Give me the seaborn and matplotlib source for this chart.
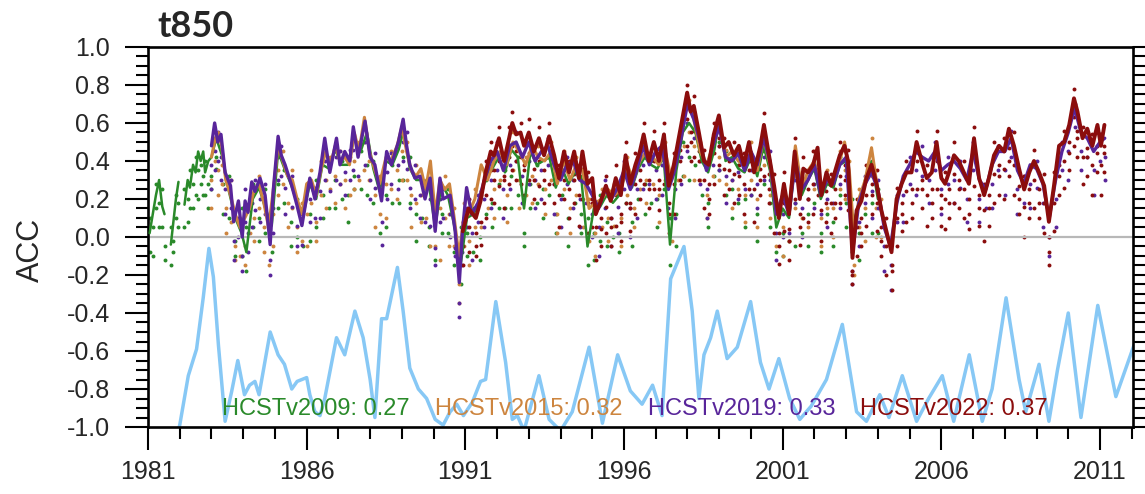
import numpy as np
import pandas as pd
import matplotlib
matplotlib.use("Agg")
import matplotlib.pyplot as plt
from matplotlib.ticker import MultipleLocator, FormatStrFormatter
import seaborn as sns

nan = np.nan

# ---------------- data ----------------
labels = ["HCSTv2009: 0.27", "HCSTv2015: 0.32", "HCSTv2019: 0.33", "HCSTv2022: 0.37"]
xticks = [1981, 1986, 1991, 1996, 2001, 2006, 2011]

# HCSTv2009 (green)
green_t = [1981.05, 1981.15, 1981.25, 1981.35, 1981.45, 1981.52, 1981.60, 1981.72, 1981.80, 1981.88,
           1981.96, 1982.05, 1982.15, 1982.25, 1982.32, 1982.42, 1982.50, 1982.58, 1982.66, 1982.74,
           1982.80, 1982.90, 1983.00, 1983.15, 1983.35, 1983.55, 1983.75, 1983.95, 1984.10, 1984.30,
           1984.50, 1984.70, 1984.90, 1985.10, 1985.30, 1985.50, 1985.70, 1985.90, 1986.10, 1986.30,
           1986.50, 1986.70, 1986.90, 1987.10, 1987.30, 1987.50, 1987.70, 1987.90, 1988.10, 1988.30,
           1988.50, 1988.70, 1988.90, 1989.05, 1989.25, 1989.45, 1989.65, 1989.85, 1990.05, 1990.25,
           1990.45, 1990.65, 1990.85, 1991.05, 1991.25, 1991.45, 1991.65, 1991.85, 1992.05, 1992.25,
           1992.45, 1992.65, 1992.85, 1993.05, 1993.25, 1993.45, 1993.65, 1993.85, 1994.05, 1994.25,
           1994.45, 1994.65, 1994.85, 1995.05, 1995.25, 1995.45, 1995.65, 1995.85, 1996.05, 1996.25,
           1996.45, 1996.65, 1996.85, 1997.05, 1997.25, 1997.45, 1997.65, 1997.85, 1998.05, 1998.25,
           1998.45, 1998.65, 1998.85, 1999.00, 1999.20, 1999.40, 1999.60, 1999.80, 2000.00, 2000.20,
           2000.40, 2000.60, 2000.80, 2001.00, 2001.20, 2001.40, 2001.60, 2001.80, 2002.00, 2002.20,
           2002.40, 2002.60, 2002.80, 2003.00, 2003.20, 2003.40, 2003.60, 2003.80, 2004.00]
green_v = [0.02, 0.12, 0.22, 0.30, 0.16, 0.12, nan, -0.04, 0.08, 0.20,
           0.29, nan, 0.17, 0.30, 0.26, 0.38, 0.34, 0.45, 0.40, 0.45,
           0.34, 0.40, 0.42, 0.52, 0.42, 0.24, 0.10, 0.02, -0.08, 0.20,
           0.26, 0.15, 0.06, 0.45, 0.36, 0.28, 0.18, 0.12, 0.28, 0.20,
           0.38, 0.36, 0.46, 0.38, 0.38, 0.52, 0.45, 0.55, 0.36, 0.24,
           0.40, 0.38, 0.46, 0.56, 0.36, 0.30, 0.30, 0.28, 0.05, 0.28,
           0.22, 0.06, -0.15, 0.10, 0.12, 0.18, 0.32, 0.36, 0.42, 0.34,
           0.46, 0.42, 0.15, 0.45, 0.38, 0.40, 0.42, 0.26, 0.36, 0.28,
           0.34, 0.32, -0.05, 0.15, 0.16, 0.22, 0.18, 0.22, 0.34, 0.26,
           0.36, 0.42, 0.38, 0.36, 0.42, -0.04, 0.35, 0.55, 0.60, 0.55,
           0.40, 0.34, 0.46, 0.62, 0.40, 0.42, 0.36, 0.34, 0.42, 0.32,
           0.48, 0.35, 0.05, 0.15, 0.10, 0.40, 0.22, 0.30, 0.36, 0.20,
           0.28, 0.26, 0.38, 0.40, 0.05, 0.18, 0.28, 0.40, 0.20]
green_m1 = [-0.08, 0.05, 0.15, 0.18, 0.05, -0.05, nan, -0.15, -0.02, 0.10,
            0.18, nan, 0.05, 0.20, 0.15, 0.28, 0.22, 0.35, 0.28, 0.32,
            0.22, 0.28, 0.32, 0.36, 0.28, 0.10, -0.02, -0.10, -0.18, 0.05,
            0.10, 0.02, -0.08, 0.28, 0.18, 0.08, 0.00, -0.05, 0.12, 0.05,
            0.22, 0.15, 0.30, 0.20, 0.22, 0.32, 0.25, 0.38, 0.18, 0.02,
            0.22, 0.18, 0.30, 0.42, 0.18, 0.12, 0.10, 0.05, -0.12, 0.12,
            0.02, -0.08, -0.25, 0.02, -0.08, 0.00, 0.12, 0.18, 0.28, 0.15,
            0.32, 0.22, 0.02, 0.28, 0.18, 0.25, 0.22, 0.12, 0.22, 0.10,
            0.18, 0.12, -0.15, 0.02, -0.02, 0.08, 0.00, 0.02, 0.18, 0.08,
            0.20, 0.28, 0.18, 0.20, 0.25, -0.15, 0.12, 0.32, 0.42, 0.38,
            0.22, 0.18, 0.32, 0.50, 0.22, 0.25, 0.18, 0.20, 0.22, 0.12,
            0.28, 0.18, -0.08, 0.02, -0.02, 0.18, 0.02, 0.12, 0.18, 0.02,
            0.12, 0.08, 0.22, 0.18, -0.08, 0.02, 0.12, 0.18, 0.02]
green_m2 = [0.10, -0.10, 0.28, 0.05, 0.25, -0.12, nan, 0.05, -0.08, 0.22,
            0.05, nan, 0.25, 0.08, 0.35, 0.15, 0.42, 0.20, 0.38, 0.22,
            0.40, 0.15, 0.25, 0.42, 0.12, 0.32, -0.10, 0.15, 0.05, 0.28,
            -0.02, 0.25, 0.12, 0.15, 0.35, -0.05, 0.20, 0.15, -0.02, 0.30,
            0.10, 0.38, 0.15, 0.40, 0.08, 0.25, 0.45, 0.22, 0.40, 0.25,
            0.05, 0.38, 0.18, 0.30, 0.42, -0.02, 0.30, -0.05, 0.12, 0.02,
            0.25, -0.15, 0.05, -0.10, 0.15, -0.12, 0.30, 0.05, 0.15, 0.35,
            0.15, 0.42, -0.05, 0.15, 0.38, 0.10, 0.42, 0.02, 0.40, -0.05,
            0.35, 0.02, 0.10, -0.12, 0.22, -0.05, 0.25, -0.08, 0.35, -0.05,
            0.38, 0.12, 0.40, 0.05, 0.45, 0.10, -0.05, 0.50, 0.30, 0.58,
            0.40, 0.05, 0.50, 0.35, 0.45, 0.10, 0.38, 0.05, 0.40, -0.02,
            0.45, 0.05, 0.18, -0.10, 0.20, -0.05, 0.28, -0.05, 0.35, -0.08,
            0.32, -0.05, 0.42, 0.05, 0.20, -0.12, 0.30, 0.02, 0.25]

# HCSTv2015 (orange)
orange_t = [1983.00, 1983.12, 1983.22, 1983.32, 1983.45, 1983.60, 1983.75, 1983.90, 1984.05, 1984.20,
            1984.35, 1984.50, 1984.65, 1984.80, 1984.95, 1985.10, 1985.25, 1985.40, 1985.55, 1985.70,
            1985.85, 1986.00, 1986.15, 1986.30, 1986.45, 1986.60, 1986.75, 1986.90, 1987.05, 1987.20,
            1987.35, 1987.50, 1987.65, 1987.82, 1987.98, 1988.15, 1988.30, 1988.50, 1988.65, 1988.85,
            1989.00, 1989.15, 1989.30, 1989.45, 1989.60, 1989.75, 1989.90, 1990.05, 1990.20, 1990.35,
            1990.50, 1990.65, 1990.80, 1990.95, 1991.10, 1991.30, 1991.50, 1991.70, 1991.90, 1992.10,
            1992.30, 1992.50, 1992.70, 1992.90, 1993.10, 1993.30, 1993.50, 1993.70, 1993.90, 1994.10,
            1994.30, 1994.50, 1994.70, 1994.90, 1995.10, 1995.30, 1995.50, 1995.70, 1995.90, 1996.10,
            1996.30, 1996.50, 1996.70, 1996.90, 1997.10, 1997.30, 1997.50, 1997.70, 1997.90, 1998.05,
            1998.20, 1998.40, 1998.60, 1998.80, 1999.00, 1999.20, 1999.40, 1999.60, 1999.80, 2000.00,
            2000.20, 2000.40, 2000.60, 2000.80, 2001.00, 2001.20, 2001.40, 2001.60, 2001.80, 2002.00,
            2002.20, 2002.40, 2002.60, 2002.80, 2002.95, 2003.10, 2003.25, 2003.40, 2003.60, 2003.80,
            2003.95, 2004.10]
orange_v = [0.42, 0.52, 0.55, 0.48, 0.30, 0.22, 0.12, 0.05, 0.10, 0.15,
            0.25, 0.28, 0.18, 0.05, 0.25, 0.48, 0.40, 0.32, 0.30, 0.20,
            0.12, 0.28, 0.30, 0.22, 0.35, 0.45, 0.38, 0.48, 0.40, 0.42,
            0.38, 0.55, 0.45, 0.63, 0.45, 0.35, 0.28, 0.42, 0.40, 0.48,
            0.58, 0.45, 0.35, 0.32, 0.36, 0.25, 0.40, 0.12, 0.30, 0.25,
            0.28, 0.10, -0.10, 0.10, 0.12, 0.20, 0.38, 0.30, 0.40, 0.45,
            0.38, 0.50, 0.45, 0.38, 0.48, 0.42, 0.40, 0.45, 0.28, 0.40,
            0.30, 0.38, 0.35, 0.15, 0.18, 0.20, 0.25, 0.22, 0.25, 0.38,
            0.30, 0.40, 0.45, 0.42, 0.38, 0.45, 0.30, 0.45, 0.65, 0.70,
            0.62, 0.45, 0.38, 0.48, 0.58, 0.42, 0.45, 0.40, 0.38, 0.45,
            0.35, 0.52, 0.38, 0.12, 0.22, 0.15, 0.48, 0.25, 0.35, 0.40,
            0.25, 0.30, 0.30, 0.40, 0.50, 0.35, 0.00, 0.20, 0.30, 0.47,
            0.30, 0.15]
orange_m1 = [0.30, 0.40, 0.35, 0.28, 0.15, 0.08, -0.05, -0.10, -0.05, 0.02,
             0.10, 0.15, 0.05, -0.15, 0.12, 0.35, 0.28, 0.18, 0.15, 0.05,
             -0.02, 0.12, 0.18, 0.08, 0.22, 0.30, 0.25, 0.32, 0.28, 0.30,
             0.22, 0.40, 0.30, 0.50, 0.30, 0.22, 0.12, 0.28, 0.25, 0.35,
             0.45, 0.30, 0.22, 0.18, 0.22, 0.10, 0.25, -0.05, 0.15, 0.10,
             0.12, -0.05, -0.25, -0.05, -0.02, 0.05, 0.22, 0.15, 0.25, 0.30,
             0.22, 0.35, 0.30, 0.22, 0.32, 0.28, 0.25, 0.30, 0.12, 0.25,
             0.15, 0.22, 0.20, -0.02, 0.02, 0.05, 0.10, 0.06, 0.10, 0.22,
             0.15, 0.25, 0.30, 0.28, 0.22, 0.30, 0.12, 0.30, 0.48, 0.55,
             0.48, 0.30, 0.22, 0.32, 0.42, 0.28, 0.30, 0.25, 0.22, 0.30,
             0.20, 0.38, 0.22, -0.05, 0.05, -0.02, 0.32, 0.10, 0.20, 0.25,
             0.10, 0.15, 0.15, 0.25, 0.35, 0.20, -0.15, 0.05, 0.15, 0.32,
             0.15, 0.00]
orange_m2 = [0.15, 0.55, 0.22, 0.38, 0.02, 0.30, -0.12, 0.10, -0.15, 0.20,
             -0.02, 0.32, -0.08, 0.08, -0.05, 0.22, 0.45, 0.05, 0.35, -0.08,
             0.18, -0.05, 0.35, -0.02, 0.40, 0.15, 0.42, 0.18, 0.45, 0.15,
             0.42, 0.25, 0.50, 0.35, 0.40, 0.05, 0.32, 0.10, 0.45, 0.20,
             0.30, 0.50, 0.05, 0.38, 0.08, 0.30, -0.05, 0.18, -0.12, 0.32,
             -0.05, 0.15, -0.35, 0.18, -0.15, 0.25, 0.05, 0.35, 0.10, 0.42,
             0.08, 0.55, 0.15, 0.42, 0.18, 0.48, 0.12, 0.50, 0.02, 0.45,
             0.02, 0.42, 0.05, 0.20, -0.10, 0.25, -0.02, 0.28, -0.05, 0.42,
             0.05, 0.45, 0.18, 0.48, 0.08, 0.50, -0.02, 0.48, 0.32, 0.72,
             0.30, 0.50, 0.10, 0.52, 0.30, 0.46, 0.15, 0.45, 0.08, 0.50,
             0.05, 0.55, 0.10, 0.15, -0.10, 0.20, 0.15, 0.30, 0.05, 0.45,
             -0.05, 0.35, 0.00, 0.45, 0.20, 0.40, -0.20, 0.25, -0.02, 0.52,
             0.00, 0.20]

# HCSTv2019 (purple)
purple_t = [1983.00, 1983.10, 1983.20, 1983.30, 1983.43, 1983.60, 1983.70, 1983.85, 1983.97, 1984.06,
            1984.15, 1984.27, 1984.37, 1984.53, 1984.69, 1984.85, 1984.95, 1985.10, 1985.20, 1985.32,
            1985.53, 1985.69, 1985.85, 1986.10, 1986.26, 1986.42, 1986.57, 1986.73, 1986.94, 1987.05,
            1987.20, 1987.36, 1987.47, 1987.62, 1987.84, 1988.00, 1988.15, 1988.36, 1988.52, 1988.67,
            1988.89, 1989.04, 1989.15, 1989.25, 1989.41, 1989.57, 1989.73, 1989.89, 1990.05, 1990.20,
            1990.30, 1990.52, 1990.68, 1990.81, 1990.91, 1991.04,
            1991.2, 1991.4, 1991.6, 1991.8, 1992.0, 1992.2, 1992.4, 1992.6, 1992.8, 1993.0,
            1993.2, 1993.4, 1993.6, 1993.8, 1994.0, 1994.2, 1994.4, 1994.6, 1994.8, 1995.0,
            1995.2, 1995.4, 1995.6, 1995.8, 1996.0, 1996.2, 1996.4, 1996.6, 1996.8, 1997.0,
            1997.2, 1997.4, 1997.6, 1997.8, 1998.0, 1998.2, 1998.4, 1998.6, 1998.8, 1999.0,
            1999.2, 1999.4, 1999.6, 1999.8, 2000.0, 2000.2, 2000.4, 2000.6, 2000.8, 2001.0,
            2001.2, 2001.4, 2001.6, 2001.8, 2002.0, 2002.2, 2002.4, 2002.6, 2002.8, 2003.0,
            2003.2, 2003.4, 2003.6, 2003.8, 2004.0, 2004.2, 2004.4, 2004.6, 2004.8, 2005.0,
            2005.2, 2005.4, 2005.6, 2005.8, 2006.0, 2006.2, 2006.4, 2006.6, 2006.8, 2007.0,
            2007.2, 2007.4, 2007.6, 2007.8, 2008.0, 2008.2, 2008.4, 2008.6, 2008.8, 2009.0,
            2009.2, 2009.4, 2009.6, 2009.8, 2010.0, 2010.2, 2010.4, 2010.6, 2010.8, 2011.0,
            2011.15]
purple_v = [0.48, 0.60, 0.50, 0.54, 0.34, 0.27, 0.08, 0.19, 0.00, 0.19,
            0.13, 0.29, 0.24, 0.31, 0.22, -0.04, 0.25, 0.53, 0.43, 0.38,
            0.27, 0.17, 0.06, 0.31, 0.20, 0.34, 0.52, 0.34, 0.52, 0.38,
            0.45, 0.40, 0.58, 0.42, 0.61, 0.42, 0.38, 0.19, 0.45, 0.38,
            0.50, 0.62, 0.48, 0.38, 0.31, 0.32, 0.20, 0.31, 0.03, 0.31,
            0.20, 0.22, 0.03, -0.24, 0.03, 0.26,
            0.12, 0.18, 0.30, 0.40, 0.45, 0.35, 0.48, 0.50, 0.42, 0.50,
            0.40, 0.45, 0.48, 0.38, 0.30, 0.38, 0.40, 0.30, 0.28, 0.22,
            0.15, 0.25, 0.20, 0.26, 0.35, 0.25, 0.35, 0.48, 0.38, 0.45,
            0.48, 0.25, 0.35, 0.52, 0.70, 0.62, 0.50, 0.35, 0.48, 0.58,
            0.42, 0.40, 0.44, 0.35, 0.45, 0.38, 0.52, 0.40, 0.12, 0.22,
            0.12, 0.40, 0.25, 0.30, 0.38, 0.22, 0.30, 0.28, 0.38, 0.42,
            -0.08, 0.18, 0.28, 0.34, 0.25, 0.05, -0.05, 0.18, 0.32, 0.38,
            0.45, 0.42, 0.40, 0.45, 0.35, 0.38, 0.40, 0.36, 0.30, 0.45,
            0.30, 0.25, 0.38, 0.45, 0.45, 0.52, 0.35, 0.28, 0.38, 0.36,
            0.28, 0.10, 0.30, 0.45, 0.55, 0.68, 0.55, 0.52, 0.45, 0.50,
            0.52]
purple_m1 = [0.38, 0.45, 0.40, 0.42, 0.25, 0.15, -0.02, 0.10, -0.10, 0.08,
             0.02, 0.18, 0.14, 0.20, 0.12, -0.12, 0.15, 0.42, 0.32, 0.26,
             0.16, 0.06, -0.04, 0.20, 0.10, 0.24, 0.40, 0.24, 0.42, 0.28,
             0.34, 0.30, 0.46, 0.32, 0.50, 0.30, 0.26, 0.08, 0.34, 0.28,
             0.38, 0.50, 0.36, 0.26, 0.20, 0.22, 0.08, 0.20, -0.06, 0.20,
             0.10, 0.12, -0.06, -0.35, -0.08, 0.15,
             0.02, 0.08, 0.20, 0.30, 0.35, 0.25, 0.38, 0.40, 0.32, 0.40,
             0.30, 0.35, 0.38, 0.28, 0.20, 0.28, 0.30, 0.20, 0.18, 0.12,
             0.05, 0.15, 0.10, 0.16, 0.25, 0.15, 0.25, 0.38, 0.28, 0.35,
             0.38, 0.15, 0.25, 0.42, 0.60, 0.52, 0.40, 0.25, 0.38, 0.48,
             0.32, 0.30, 0.34, 0.25, 0.35, 0.28, 0.42, 0.30, 0.02, 0.12,
             0.02, 0.30, 0.15, 0.20, 0.28, 0.12, 0.20, 0.18, 0.28, 0.32,
             -0.18, 0.08, 0.18, 0.24, 0.15, -0.05, -0.15, 0.08, 0.22, 0.28,
             0.35, 0.32, 0.30, 0.35, 0.25, 0.28, 0.30, 0.26, 0.20, 0.35,
             0.20, 0.15, 0.28, 0.35, 0.35, 0.42, 0.25, 0.18, 0.28, 0.26,
             0.18, 0.00, 0.20, 0.35, 0.45, 0.58, 0.45, 0.42, 0.35, 0.40,
             0.42]
purple_m2 = [0.25, 0.35, 0.55, 0.30, 0.12, 0.30, -0.12, 0.00, -0.18, 0.25,
             -0.08, 0.05, 0.30, 0.08, 0.28, -0.20, 0.02, 0.30, 0.48, 0.12,
             0.32, -0.05, 0.12, 0.08, 0.26, 0.10, 0.30, 0.40, 0.30, 0.45,
             0.22, 0.46, 0.35, 0.48, 0.38, 0.20, 0.44, -0.04, 0.20, 0.44,
             0.25, 0.40, 0.55, 0.15, 0.38, 0.10, 0.26, 0.06, -0.15, 0.08,
             0.25, 0.00, -0.10, -0.42, -0.15, 0.05,
             -0.12, 0.22, 0.05, 0.15, 0.50, 0.10, 0.25, 0.55, 0.18, 0.28,
             0.15, 0.20, 0.52, 0.12, 0.05, 0.42, 0.15, 0.05, 0.32, 0.00,
             -0.10, 0.30, -0.05, 0.02, 0.40, 0.00, 0.10, 0.25, 0.42, 0.20,
             0.22, 0.30, 0.10, 0.28, 0.45, 0.66, 0.28, 0.10, 0.52, 0.35,
             0.18, 0.45, 0.20, 0.40, 0.22, 0.15, 0.30, 0.45, -0.12, 0.00,
             0.18, 0.18, 0.00, 0.35, 0.15, 0.28, 0.05, 0.32, 0.15, 0.46,
             -0.25, -0.05, 0.32, 0.10, 0.30, -0.18, -0.28, 0.22, 0.08, 0.42,
             0.22, 0.48, 0.18, 0.50, 0.12, 0.42, 0.18, 0.40, 0.08, 0.50,
             0.08, 0.28, 0.15, 0.48, 0.22, 0.56, 0.12, 0.32, 0.15, 0.40,
             0.05, -0.10, 0.05, 0.50, 0.30, 0.70, 0.35, 0.56, 0.22, 0.54,
             0.30]

# HCSTv2022 (dark red)
red_t = [1990.92, 1991.10, 1991.33, 1991.48, 1991.64, 1991.80, 1991.90, 1992.06, 1992.22, 1992.38,
         1992.48, 1992.60, 1992.74, 1992.85, 1993.00, 1993.16, 1993.32, 1993.48, 1993.64, 1993.80,
         1993.95, 1994.11, 1994.27, 1994.43, 1994.58, 1994.69, 1994.85, 1995.00, 1995.11, 1995.27,
         1995.43, 1995.58, 1995.74, 1995.90, 1996.05, 1996.20, 1996.36, 1996.50, 1996.62, 1996.78,
         1996.94, 1997.10, 1997.26, 1997.41, 1997.57, 1997.78, 1997.99, 1998.10, 1998.20, 1998.36,
         1998.52, 1998.67, 1998.83, 1998.99, 1999.15, 1999.30, 1999.46, 1999.62, 1999.78, 1999.94,
         2000.10, 2000.30, 2000.41, 2000.57, 2000.73, 2000.88, 2001.04, 2001.20, 2001.38, 2001.54,
         2001.65, 2001.80, 2001.96, 2002.10, 2002.22, 2002.38, 2002.53, 2002.64, 2002.80, 2002.95,
         2003.06, 2003.20, 2003.33, 2003.48, 2003.64, 2003.80, 2003.96, 2004.11, 2004.27, 2004.43,
         2004.59, 2004.75, 2004.90, 2005.06, 2005.22, 2005.38, 2005.54, 2005.70, 2005.85, 2006.00,
         2006.12, 2006.24, 2006.40, 2006.55, 2006.71, 2006.87, 2007.03, 2007.19, 2007.35, 2007.50,
         2007.66, 2007.82, 2007.98, 2008.13, 2008.29, 2008.45, 2008.61, 2008.77, 2008.92, 2009.08,
         2009.24, 2009.39, 2009.55, 2009.71, 2009.87, 2010.03, 2010.18, 2010.29, 2010.45, 2010.60,
         2010.76, 2010.92, 2011.03, 2011.14]
red_v = [0.03, 0.15, 0.10, 0.19, 0.34, 0.45, 0.43, 0.52, 0.40, 0.52,
         0.60, 0.54, 0.55, 0.48, 0.55, 0.45, 0.52, 0.43, 0.53, 0.43,
         0.31, 0.45, 0.34, 0.45, 0.31, 0.45, 0.28, 0.31, 0.12, 0.19,
         0.27, 0.19, 0.31, 0.22, 0.43, 0.28, 0.38, 0.45, 0.54, 0.40,
         0.50, 0.40, 0.54, 0.27, 0.38, 0.57, 0.76, 0.66, 0.69, 0.55,
         0.40, 0.38, 0.54, 0.64, 0.47, 0.50, 0.43, 0.48, 0.38, 0.50,
         0.34, 0.48, 0.59, 0.43, 0.27, 0.10, 0.28, 0.12, 0.45, 0.20,
         0.36, 0.34, 0.38, 0.47, 0.22, 0.34, 0.27, 0.34, 0.43, 0.48,
         0.40, -0.11, 0.14, 0.19, 0.31, 0.38, 0.28, 0.14, 0.03, -0.08,
         0.20, 0.28, 0.34, 0.34, 0.50, 0.40, 0.31, 0.34, 0.50, 0.31,
         0.28, 0.34, 0.43, 0.40, 0.34, 0.28, 0.52, 0.31, 0.22, 0.31,
         0.43, 0.48, 0.45, 0.57, 0.48, 0.36, 0.25, 0.34, 0.40, 0.34,
         0.27, 0.08, 0.27, 0.48, 0.50, 0.59, 0.73, 0.66, 0.52, 0.57,
         0.48, 0.59, 0.48, 0.59]
red_m1 = [-0.05, 0.05, 0.02, 0.08, 0.22, 0.35, 0.30, 0.40, 0.32, 0.42,
          0.48, 0.45, 0.42, 0.38, 0.44, 0.36, 0.40, 0.35, 0.42, 0.33,
          0.22, 0.35, 0.25, 0.33, 0.22, 0.36, 0.18, 0.20, 0.05, 0.10,
          0.16, 0.10, 0.22, 0.12, 0.32, 0.18, 0.28, 0.35, 0.42, 0.30,
          0.40, 0.30, 0.42, 0.18, 0.28, 0.46, 0.62, 0.55, 0.56, 0.45,
          0.30, 0.28, 0.44, 0.52, 0.36, 0.40, 0.33, 0.38, 0.28, 0.40,
          0.25, 0.36, 0.48, 0.33, 0.18, 0.02, 0.18, 0.04, 0.34, 0.12,
          0.26, 0.25, 0.28, 0.36, 0.14, 0.24, 0.18, 0.25, 0.32, 0.38,
          0.30, -0.18, 0.05, 0.10, 0.22, 0.28, 0.18, 0.05, -0.05, -0.15,
          0.10, 0.18, 0.24, 0.25, 0.40, 0.30, 0.22, 0.25, 0.40, 0.22,
          0.20, 0.25, 0.33, 0.30, 0.25, 0.20, 0.42, 0.22, 0.14, 0.22,
          0.33, 0.38, 0.36, 0.47, 0.38, 0.27, 0.16, 0.25, 0.30, 0.25,
          0.18, 0.00, 0.18, 0.38, 0.40, 0.50, 0.63, 0.56, 0.42, 0.47,
          0.38, 0.48, 0.38, 0.48]
red_m2 = [-0.15, -0.08, -0.10, -0.04, 0.10, 0.20, 0.18, 0.27, 0.15, 0.28,
          0.35, 0.30, 0.28, 0.22, 0.30, 0.20, 0.27, 0.18, 0.28, 0.18,
          0.05, 0.20, 0.10, 0.18, 0.06, 0.20, 0.02, 0.05, -0.12, -0.05,
          0.02, -0.05, 0.06, -0.02, 0.18, 0.03, 0.12, 0.20, 0.28, 0.15,
          0.25, 0.14, 0.28, 0.02, 0.12, 0.30, 0.48, 0.40, 0.42, 0.30,
          0.15, 0.12, 0.28, 0.38, 0.22, 0.25, 0.18, 0.22, 0.12, 0.25,
          0.08, 0.22, 0.32, 0.18, 0.02, -0.14, 0.03, -0.12, 0.20, -0.04,
          0.10, 0.08, 0.12, 0.22, -0.02, 0.08, 0.02, 0.10, 0.18, 0.22,
          0.14, -0.25, -0.10, -0.05, 0.06, 0.12, 0.03, -0.10, -0.20, -0.28,
          -0.05, 0.03, 0.08, 0.10, 0.25, 0.15, 0.06, 0.10, 0.25, 0.06,
          0.04, 0.10, 0.18, 0.15, 0.10, 0.04, 0.27, 0.06, -0.02, 0.06,
          0.18, 0.22, 0.20, 0.32, 0.22, 0.12, 0.00, 0.10, 0.15, 0.10,
          0.02, -0.15, 0.03, 0.22, 0.26, 0.35, 0.48, 0.42, 0.28, 0.32,
          0.22, 0.34, 0.22, 0.34]
red_m3 = [0.08, 0.20, -0.05, 0.24, 0.40, 0.50, 0.35, 0.58, 0.30, 0.58,
          0.66, 0.40, 0.60, 0.35, 0.62, 0.30, 0.58, 0.30, 0.60, 0.28,
          0.38, 0.30, 0.40, 0.30, 0.38, 0.30, 0.34, 0.18, 0.18, 0.04,
          0.32, 0.05, 0.38, 0.08, 0.50, 0.15, 0.44, 0.30, 0.60, 0.25,
          0.56, 0.25, 0.60, 0.12, 0.44, 0.40, 0.80, 0.50, 0.74, 0.40,
          0.46, 0.20, 0.60, 0.48, 0.52, 0.35, 0.50, 0.32, 0.44, 0.35,
          0.40, 0.30, 0.65, 0.25, 0.33, -0.05, 0.34, -0.02, 0.52, 0.05,
          0.42, 0.20, 0.45, 0.30, 0.28, 0.18, 0.33, 0.18, 0.50, 0.30,
          0.46, -0.20, 0.20, 0.02, 0.38, 0.22, 0.35, -0.02, 0.10, -0.18,
          0.26, 0.12, 0.40, 0.18, 0.56, 0.25, 0.38, 0.18, 0.56, 0.15,
          0.34, 0.18, 0.50, 0.25, 0.40, 0.12, 0.58, 0.15, 0.28, 0.15,
          0.50, 0.32, 0.52, 0.40, 0.55, 0.20, 0.32, 0.18, 0.46, 0.18,
          0.33, -0.08, 0.34, 0.32, 0.56, 0.44, 0.78, 0.52, 0.58, 0.42,
          0.54, 0.44, 0.54, 0.44]

# Light-blue reference index (plotted on the same axis)
blue_t = [1981.00, 1981.50, 1981.90, 1982.00, 1982.27, 1982.53, 1982.74, 1982.92, 1983.06, 1983.22,
          1983.43, 1983.64, 1983.83, 1984.04, 1984.20, 1984.37, 1984.50, 1984.85, 1985.10, 1985.30,
          1985.53, 1985.70, 1986.00, 1986.10, 1986.26, 1986.42, 1986.57, 1986.94, 1987.20, 1987.52,
          1987.78, 1988.00, 1988.15, 1988.36, 1988.52, 1988.86, 1989.04, 1989.25, 1989.52, 1989.78,
          1990.05, 1990.30, 1990.52, 1990.73, 1990.94, 1991.22, 1991.48, 1991.64, 1991.96, 1992.27,
          1992.48, 1992.64, 1992.85, 1993.32, 1993.64, 1994.00, 1994.37, 1994.90, 1995.32, 1995.80,
          1996.20, 1996.57, 1996.90, 1997.20, 1997.47, 1997.89, 1998.15, 1998.36, 1998.52, 1998.73,
          1998.94, 1999.25, 1999.57, 1999.99, 2000.30, 2000.57, 2000.88, 2001.22, 2001.54, 2001.90,
          2002.38, 2002.88, 2003.33, 2003.64, 2004.06, 2004.35, 2004.77, 2005.22, 2005.60, 2006.03,
          2006.39, 2006.88, 2007.29, 2007.60, 2008.04, 2008.45, 2008.66, 2009.08, 2009.39, 2009.66,
          2010.00, 2010.40, 2010.93, 2011.50, 2012.07]
blue_v = [-1.35, -1.25, -1.05, -0.99, -0.73, -0.59, -0.32, -0.06, -0.21, -0.57,
          -0.97, -0.81, -0.65, -0.83, -0.78, -0.76, -0.83, -0.50, -0.62, -0.67,
          -0.80, -0.76, -0.74, -0.83, -0.92, -0.94, -0.85, -0.53, -0.62, -0.39,
          -0.53, -0.75, -0.95, -0.43, -0.43, -0.16, -0.39, -0.69, -0.80, -0.85,
          -0.96, -0.99, -0.92, -0.88, -0.94, -0.87, -0.76, -0.75, -0.34, -0.66,
          -0.96, -0.94, -1.02, -0.73, -0.96, -1.02, -0.92, -0.58, -0.98, -0.62,
          -0.81, -0.88, -0.78, -0.94, -0.22, -0.05, -0.39, -0.85, -0.62, -0.53,
          -0.39, -0.64, -0.58, -0.34, -0.66, -0.80, -0.64, -0.85, -0.96, -0.89,
          -0.75, -0.46, -0.92, -0.97, -0.83, -0.95, -0.73, -0.97, -0.85, -0.73,
          -0.97, -0.62, -0.97, -0.80, -0.32, -0.75, -0.92, -0.67, -0.97, -0.70,
          -0.40, -0.95, -0.36, -0.84, -0.57]

# ---------------- styling ----------------
colors = ["#2a8a2a", "#cd853f", "#58259a", "#8b0d0d"]
blue_color = "#87c8f5"

sns.set_style("ticks")
plt.rcParams["font.family"] = ["Liberation Sans", "DejaVu Sans"]
plt.rcParams["axes.unicode_minus"] = False

fig = plt.figure(figsize=(11.45, 4.94), dpi=100)
ax = fig.add_axes([148 / 1145, 67 / 494, 985 / 1145, 380 / 494])

series = [
    (green_t, green_v, [green_m1, green_m2]),
    (orange_t, orange_v, [orange_m1, orange_m2]),
    (purple_t, purple_v, [purple_m1, purple_m2]),
    (red_t, red_v, [red_m1, red_m2, red_m3]),
]

# light-blue index
sns.lineplot(x=blue_t, y=blue_v, color=blue_color, lw=2.5, ax=ax, zorder=1.5,
             estimator=None, sort=False)
ax.lines[-1].set_solid_joinstyle("round")

# ensemble-member dots
for (t, v, members), lab, col in zip(series, labels, colors):
    for m in members:
        assert len(m) == len(t), (lab, len(m), len(t))
        dd = pd.DataFrame({"t": t, "v": m}).dropna()
        sns.scatterplot(data=dd, x="t", y="v", color=col, marker="o", s=8,
                        linewidth=0, ax=ax, zorder=2, legend=False)

ax.axhline(0, color="#b8b8b8", lw=1.6, zorder=2.5)

# ensemble-mean lines
widths = [1.8, 2.2, 2.4, 2.8]
for k, ((t, v, members), lab, col, w) in enumerate(zip(series, labels, colors, widths)):
    assert len(t) == len(v), (lab, len(t), len(v))
    df = pd.DataFrame({"t": t, "v": v})
    df["seg"] = df["v"].isna().cumsum()
    df = df.dropna()
    sns.lineplot(data=df, x="t", y="v", units="seg", estimator=None, sort=False,
                 color=col, lw=w, ax=ax, zorder=3 + 0.1 * k)

# score labels
label_x = [1983.33, 1990.05, 1996.76, 2003.44]
for lx, lab, col in zip(label_x, labels, colors):
    ax.text(lx, -0.905, lab, color=col, fontsize=17, ha="left", va="center", zorder=5)

# axes
ax.set_xlim(1981, 2012.04)
ax.set_ylim(-1.0, 1.0)
ax.set_xticks(xticks)
ax.set_xticklabels([str(x) for x in xticks])
ax.xaxis.set_minor_locator(MultipleLocator(1))
ax.yaxis.set_major_locator(MultipleLocator(0.2))
ax.yaxis.set_minor_locator(MultipleLocator(0.05))
ax.yaxis.set_major_formatter(FormatStrFormatter("%.1f"))
ax.set_xlabel("")
ax.set_ylabel("ACC", fontsize=22)
ax.yaxis.set_label_coords(-0.104, 0.466)

for s in ax.spines.values():
    s.set_visible(True)
    s.set_linewidth(1.9)
    s.set_color("black")
ax.tick_params(which="both", direction="out", top=False, right=True,
               labelright=False, color="black", width=1.5)
ax.tick_params(which="major", length=16.5)
ax.tick_params(which="minor", length=8.5)
ax.tick_params(axis="y", which="major", labelsize=18, pad=11)
ax.tick_params(axis="x", which="major", labelsize=18, pad=7)

fig.text(157 / 1145, 1 - 37 / 494, "t850", fontsize=26, fontweight="bold",
         family=["Lato", "DejaVu Sans"], ha="left", va="baseline")

fig.savefig("out.png", dpi=100)
